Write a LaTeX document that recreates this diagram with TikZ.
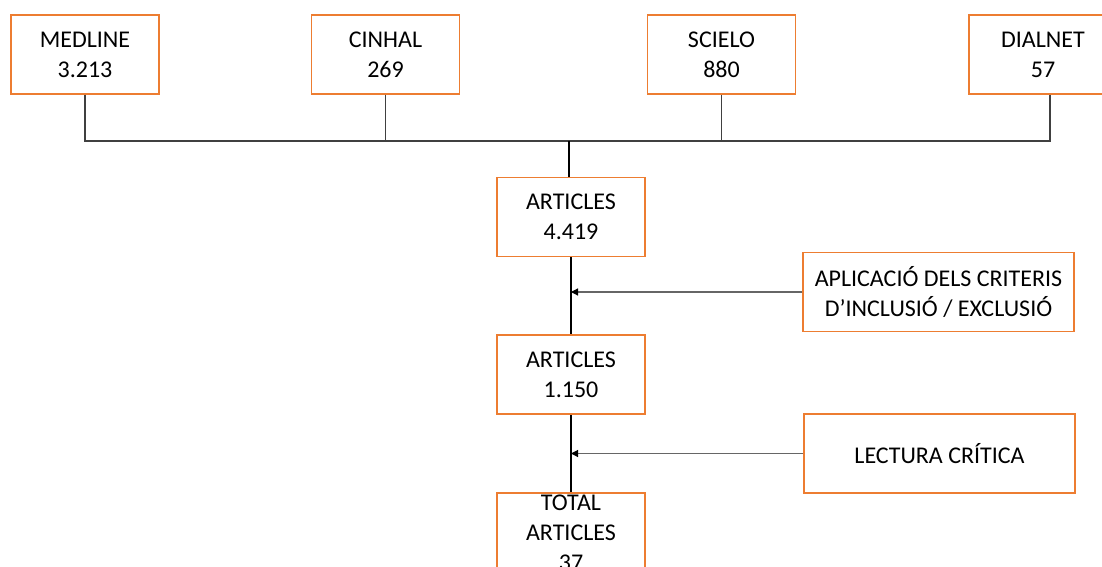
\documentclass[tikz,border=0pt]{standalone}
\usepackage{fontspec}
\setmainfont{Carlito}
\usetikzlibrary{arrows.meta}
\definecolor{boxorange}{RGB}{237,125,49}
\begin{document}
\begin{tikzpicture}[x=0.5pt, y=-0.5pt,
    box/.style={draw=boxorange, line width=0.75pt, minimum width=74pt, minimum height=39.5pt, inner sep=0pt, align=center, font=\fontsize{12}{15}\selectfont},
    wide/.style={box, minimum width=135.5pt},
    boxtext/.style={inner sep=0pt, align=center, font=\fontsize{12}{15}\selectfont},
    conn/.style={black!75, line width=0.6pt},
    feed/.style={black!60, line width=0.6pt, -{Triangle[length=3.5pt, width=3.5pt, black]}}]
      \useasboundingbox (0,0) rectangle (1102,567);
      \clip (0,0) rectangle (1102,567);

      \node[box] (medline) at (85,54.5) {MEDLINE\\3.213};
      \node[box] (cinhal) at (385.5,54.5) {CINHAL\\269};
      \node[box] (scielo) at (721.5,54.5) {SCIELO\\880};
      \node[box] (dialnet) at (1043,54.5) {DIALNET\\57};

      \coordinate (bus) at (569,141);
      \coordinate (dialdrop) at ([xshift=3.5pt]dialnet.south);
      \draw[conn] (medline.south) |- (bus);
      \draw[conn] (dialdrop) |- (bus);
      \draw[conn] (cinhal.south) -- (cinhal.south |- bus);
      \draw[conn] (scielo.south) -- (scielo.south |- bus);

      \node[box] (art1) at (571,217) {ARTICLES\\4.419};
      \node[box] (art2) at (571,374.5) {ARTICLES\\1.150};
      \node[box] (total) at (571,532.5) {};
      \node[boxtext] (totaltxt) at (total) {TOTAL\\ARTICLES\\37};

      \node[wide] (criteris) at (938.5,292) {APLICACI\'O DELS CRITERIS\\D’INCLUSI\'O / EXCLUSI\'O};
      \node[wide] (lectura) at (939.5,453.5) {LECTURA CR\'ITICA};

      \draw[black, line width=0.6pt] (bus) -- (bus |- art1.north);
      \draw[black, line width=0.6pt] (art1.south) -- (art2.north);
      \draw[black, line width=0.6pt] (art2.south) -- (total.north);
      \draw[feed] (criteris.west) -- (criteris.west -| art1.south);
      \draw[feed] (lectura.west) -- (lectura.west -| art2.south);
    \end{tikzpicture}
\end{document}
